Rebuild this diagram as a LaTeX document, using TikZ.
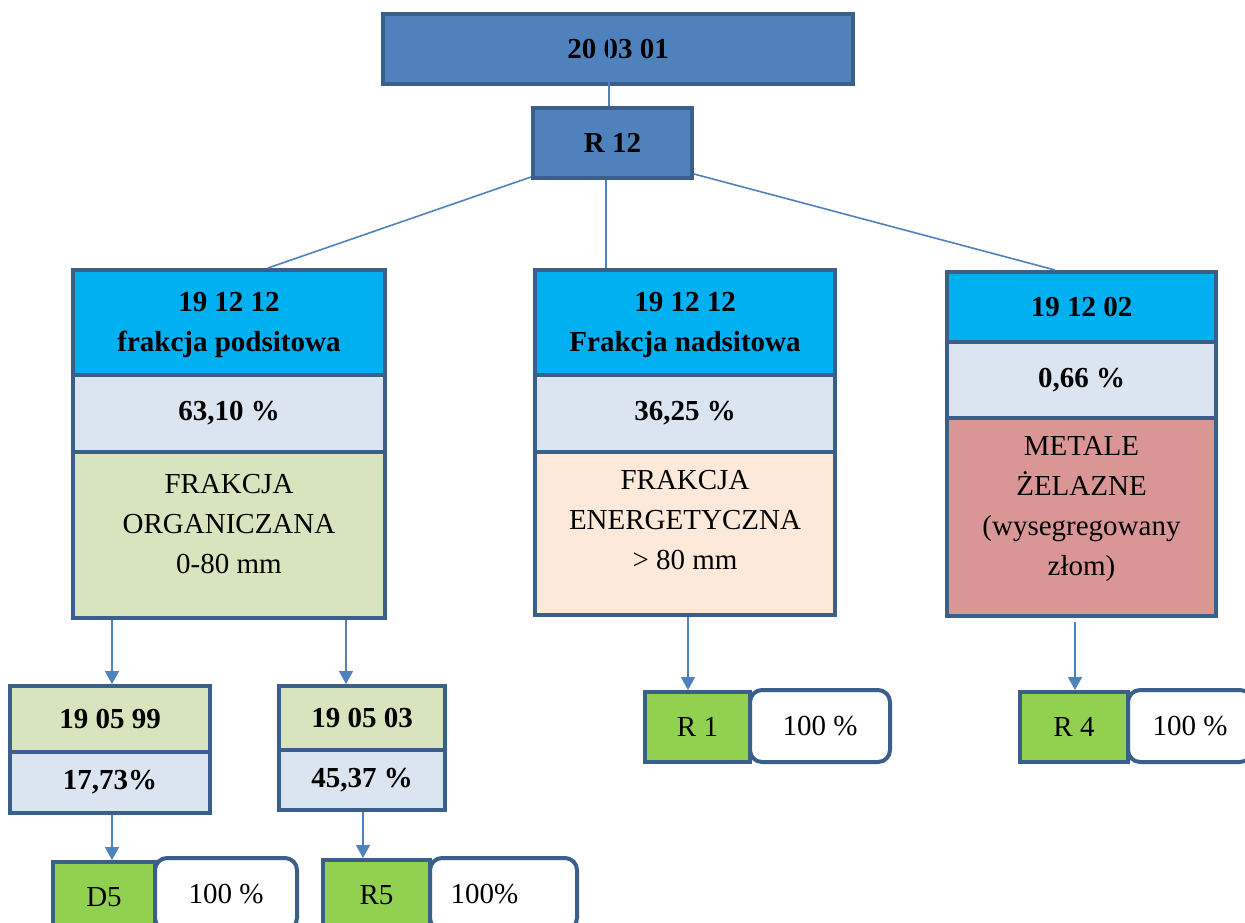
\documentclass[tikz,border=0pt]{standalone}
\usepackage{fontspec}
\setmainfont{Liberation Serif}
\usetikzlibrary{arrows.meta}
\definecolor{bord}{HTML}{3A5F8B}
\definecolor{lnk}{HTML}{4F81BD}
\definecolor{dblue}{HTML}{4F81BD}
\definecolor{cyanb}{HTML}{00B0F0}
\definecolor{pale}{HTML}{DBE5F1}
\definecolor{olive}{HTML}{D7E4BD}
\definecolor{peach}{HTML}{FDE9D9}
\definecolor{rose}{HTML}{D99694}
\definecolor{lgreen}{HTML}{92D050}
\tikzset{
  blk/.style={draw=bord, line width=4pt, inner sep=0pt, align=center,
    font=\fontsize{29}{40}\selectfont},
  bblk/.style={blk, font=\fontsize{29}{40}\selectfont\bfseries},
  pct/.style={blk, fill=white, rounded corners=12pt},
  txt/.style={align=center, inner sep=0pt, font=\fontsize{29}{40}\selectfont},
  conn/.style={draw=lnk, line width=1.6pt},
  arr/.style={conn, -{Triangle[width=14pt,length=13pt]}}
}
\begin{document}
\begin{tikzpicture}[x=1pt,y=-1pt]
\clip (0,0) rectangle (1245,923);
% top
\node[bblk, fill=dblue, minimum width=470pt, minimum height=70pt] (top) at (618,49) {20 03 01};
\node[bblk, fill=dblue, minimum width=159pt, minimum height=70pt] (r12) at (612.5,143) {R 12};
% left column
\node[bblk, fill=cyanb, minimum width=312pt, minimum height=105pt] (lb1) at (229,322.5) {};
\node[txt, font=\fontsize{29}{40}\selectfont\bfseries] (lbt) at (229,325) {19 12 12\\frakcja podsitowa};
\node[bblk, fill=pale, minimum width=312pt, minimum height=77pt] (lb2) at (229,413.5) {63,10 \%};
\node[blk, fill=olive, minimum width=312pt, minimum height=166pt] (lb3) at (229,535) {};
\node[txt] (lt) at (229,524) {FRAKCJA\\ORGANICZANA\\0-80 mm};
% middle column
\node[bblk, fill=cyanb, minimum width=300pt, minimum height=105pt] (mb1) at (685,322.5) {};
\node[txt, font=\fontsize{29}{40}\selectfont\bfseries] (mbt) at (685,325) {19 12 12\\Frakcja nadsitowa};
\node[bblk, fill=pale, minimum width=300pt, minimum height=77pt] (mb2) at (685,413.5) {36,25 \%};
\node[blk, fill=peach, minimum width=300pt, minimum height=163pt] (mb3) at (685,533.5) {};
\node[txt] (mt) at (685,520) {FRAKCJA\\ENERGETYCZNA\\> 80 mm};
% right column
\node[bblk, fill=cyanb, minimum width=269pt, minimum height=70pt] (rb1) at (1081.5,307) {19 12 02};
\node[bblk, fill=pale, minimum width=269pt, minimum height=76pt] (rb2) at (1081.5,380) {0,66 \%};
\node[blk, fill=rose, minimum width=269pt, minimum height=198pt] (rb3) at (1081.5,517) {};
\node[txt] (rt) at (1081.5,509) {METALE\\ŻELAZNE\\(wysegregowany\\złom)};
% second level
\node[bblk, fill=olive, minimum width=200pt, minimum height=66pt] (a1) at (110,719) {19 05 99};
\node[bblk, fill=pale, minimum width=200pt, minimum height=61pt] (a2) at (110,782.5) {17,73\%};
\node[bblk, fill=olive, minimum width=166pt, minimum height=64pt] (b1) at (362,718) {19 05 03};
\node[bblk, fill=pale, minimum width=166pt, minimum height=60pt] (b2) at (362,780) {45,37 \%};
% result boxes
\node[pct, minimum width=142pt, minimum height=72pt] (d5p) at (226,894) {100 \%};
\node[blk, fill=lgreen, minimum width=102pt, minimum height=70pt] (d5) at (104,897) {D5};
\node[pct, minimum width=147pt, minimum height=72pt] (r5p) at (503.5,894) {\hspace*{-38pt}100\%};
\node[blk, fill=lgreen, minimum width=107pt, minimum height=70pt] (r5) at (376.5,895) {R5};
\node[pct, minimum width=140pt, minimum height=72pt] (r1p) at (820,726) {100 \%};
\node[blk, fill=lgreen, minimum width=105pt, minimum height=70pt] (r1) at (697.5,727) {R 1};
\node[pct, minimum width=124pt, minimum height=72pt] (r4p) at (1190,726) {100 \%};
\node[blk, fill=lgreen, minimum width=108pt, minimum height=70pt] (r4) at (1074,727) {R 4};
% connectors
\draw[conn] ([xshift=-3.5pt,yshift=-11pt]r12.north |- top.north) -- ([xshift=-3.5pt]r12.north);
\draw[conn] ([yshift=3pt]r12.south west) -- ([xshift=39pt]lb1.north);
\draw[conn] ([xshift=-6.5pt]r12.south) -- ([xshift=-79pt]mb1.north);
\draw[conn] ([yshift=6pt]r12.south east) -- ([xshift=-26.5pt]rb1.north);
\draw[arr] ([xshift=2pt]a1.north |- lb3.south) -- ([xshift=2pt]a1.north);
\draw[arr] ([xshift=-16pt]b1.north |- lb3.south) -- ([xshift=-16pt]b1.north);
\draw[arr] ([xshift=-9.5pt]r1.north |- mb3.south) -- ([xshift=-9.5pt]r1.north);
\draw[arr] ([xshift=1pt,yshift=-4pt]r4.north |- rb3.south) -- ([xshift=1pt]r4.north);
\draw[arr] ([xshift=2pt]a2.south) -- ([xshift=8pt]d5.north);
\draw[arr] ([xshift=1pt]b2.south) -- ([xshift=-13.5pt]r5.north);
\end{tikzpicture}
\end{document}
